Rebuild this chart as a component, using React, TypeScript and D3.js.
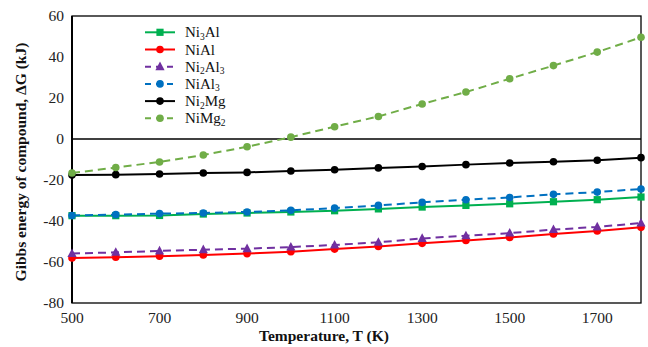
import React from "react";
import * as d3 from "d3";

const temps = [500, 600, 700, 800, 900, 1000, 1100, 1200, 1300, 1400, 1500, 1600, 1700, 1800];
const ni3al = [-37.4, -37.4, -37.3, -36.6, -36.1, -35.6, -35.0, -34.1, -33.2, -32.4, -31.6, -30.6, -29.6, -28.3];
const nial = [-58.0, -57.7, -57.2, -56.6, -55.9, -55.0, -53.7, -52.4, -50.9, -49.5, -48.0, -46.3, -44.9, -43.1];
const ni2al3 = [-55.9, -55.3, -54.6, -54.0, -53.5, -52.7, -51.7, -50.4, -48.5, -47.2, -45.9, -44.2, -42.9, -41.0];
const nial3 = [-37.3, -36.9, -36.4, -36.1, -35.6, -34.8, -33.7, -32.4, -30.9, -29.6, -28.5, -27.0, -25.9, -24.4];
const ni2mg = [-17.6, -17.4, -17.1, -16.6, -16.3, -15.6, -15.0, -14.1, -13.4, -12.5, -11.7, -11.1, -10.4, -9.1];
const nimg2 = [-16.6, -13.9, -11.2, -7.8, -3.8, 0.9, 6.0, 11.0, 17.1, 22.9, 29.4, 35.8, 42.4, 49.6];
const xTicks = [500, 700, 900, 1100, 1300, 1500, 1700];
const yTicks = [60, 40, 20, 0, -20, -40, -60, -80];

type Part = { t: string; sub?: boolean };
type Series = { name: string; parts: Part[]; values: number[]; color: string; dashed: boolean; marker: "square" | "circle" | "triangle" };

const series: Series[] = [
  { name: "Ni3Al", parts: [{ t: "Ni" }, { t: "3", sub: true }, { t: "Al" }], values: ni3al, color: "#00B050", dashed: false, marker: "square" },
  { name: "NiAl", parts: [{ t: "NiAl" }], values: nial, color: "#FF0000", dashed: false, marker: "circle" },
  { name: "Ni2Al3", parts: [{ t: "Ni" }, { t: "2", sub: true }, { t: "Al" }, { t: "3", sub: true }], values: ni2al3, color: "#7030A0", dashed: true, marker: "triangle" },
  { name: "NiAl3", parts: [{ t: "NiAl" }, { t: "3", sub: true }], values: nial3, color: "#0070C0", dashed: true, marker: "circle" },
  { name: "Ni2Mg", parts: [{ t: "Ni" }, { t: "2", sub: true }, { t: "Mg" }], values: ni2mg, color: "#000000", dashed: false, marker: "circle" },
  { name: "NiMg2", parts: [{ t: "NiMg" }, { t: "2", sub: true }], values: nimg2, color: "#70AD47", dashed: true, marker: "circle" },
];

const W = 648, H = 347;
const L = 72, R = 641, T = 16, B = 303;
const font = "Liberation Serif";

function Marker({ kind, x, y, color }: { kind: string; x: number; y: number; color: string }) {
  if (kind === "square") return <rect x={x - 3.6} y={y - 3.6} width={7.2} height={7.2} fill={color} />;
  if (kind === "triangle") {
    const s = 4.6;
    return <path d={`M${x},${y - s - 0.5} L${x + s},${y + s * 0.75} L${x - s},${y + s * 0.75} Z`} fill={color} />;
  }
  return <circle cx={x} cy={y} r={3.8} fill={color} />;
}

export default function App() {
  const x = d3.scaleLinear().domain([500, 1800]).range([L, R]);
  const y = d3.scaleLinear().domain([-80, 60]).range([B, T]);
  const line = d3.line<number>().x((_, i) => x(temps[i])).y((d) => y(d));

  return (
    <svg width={W} height={H} fontFamily={font} style={{ position: "absolute", left: 0, top: 0, background: "#fff" }}>
      <rect x={0} y={0} width={W} height={H} fill="#fff" />
      <rect x={L} y={T} width={R - L} height={B - T} fill="none" stroke="#000" strokeWidth={1.3} />
      <line x1={L} x2={R} y1={y(0)} y2={y(0)} stroke="#000" strokeWidth={1.3} />
      <line x1={L} x2={L} y1={T} y2={B} stroke="#000" strokeWidth={2} />
      {yTicks.map((t) => (
        <text key={t} x={L - 8} y={y(t)} dy="0.35em" textAnchor="end" fontFamily={font} fontSize={15.5} fill="#222">
          {t}
        </text>
      ))}
      {xTicks.map((t) => (
        <text key={t} x={x(t)} y={323} textAnchor="middle" fontFamily={font} fontSize={15.5} fill="#222">
          {t}
        </text>
      ))}
      <text x={324} y={341} textAnchor="middle" fontFamily={font} fontSize={15.5} fontWeight="bold" fill="#111">
        Temperature, T (K)
      </text>
      <text transform={`translate(26,162) rotate(-90)`} textAnchor="middle" fontFamily={font} fontSize={15.5} fontWeight="bold" fill="#111">
        Gibbs energy of compound, ΔG (kJ)
      </text>
      {series.map((s) => (
        <g key={s.name}>
          <path d={line(s.values) || ""} fill="none" stroke={s.color} strokeWidth={2} strokeDasharray={s.dashed ? "8,5" : undefined} />
          {s.values.map((v, i) => (
            <Marker key={i} kind={s.marker} x={x(temps[i])} y={y(v)} color={s.color} />
          ))}
        </g>
      ))}
      {series.map((s, i) => {
        const ly = 32.3 + i * 17.2;
        let prevSub = false;
        return (
          <g key={s.name}>
            <line x1={145} x2={175} y1={ly} y2={ly} stroke={s.color} strokeWidth={2} strokeDasharray={s.dashed ? "6,5" : undefined} />
            <Marker kind={s.marker} x={160} y={ly} color={s.color} />
            <text x={185} y={ly + 5} fontFamily={font} fontSize={15} fill="#111">
              {s.parts.map((p, j) => {
                const dy = p.sub ? (prevSub ? 0 : 2.5) : prevSub ? -2.5 : 0;
                prevSub = !!p.sub;
                return (
                  <tspan key={j} dy={dy} fontSize={p.sub ? 9.5 : 15}>
                    {p.t}
                  </tspan>
                );
              })}
            </text>
          </g>
        );
      })}
    </svg>
  );
}
